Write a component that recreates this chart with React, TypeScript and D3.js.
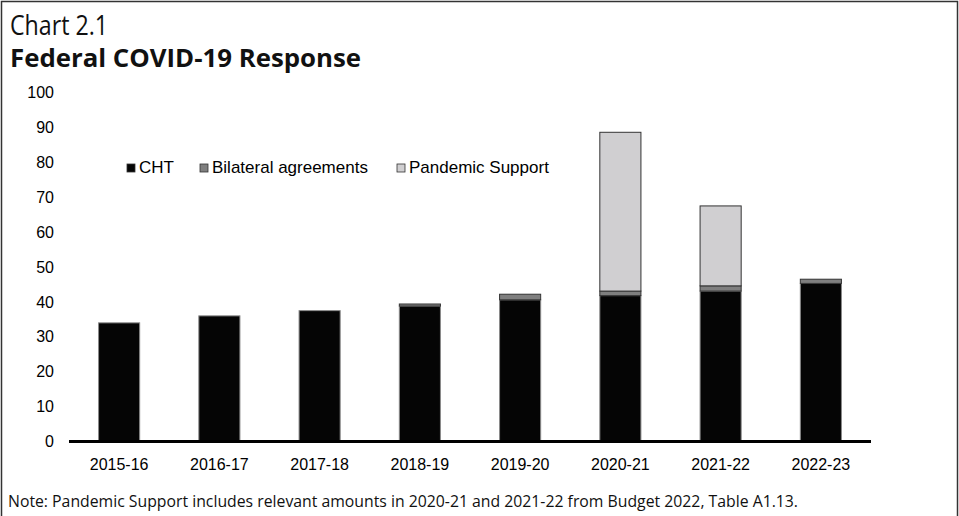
import React from "react";
import * as d3 from "d3";

const categories = ["2015-16", "2016-17", "2017-18", "2018-19", "2019-20", "2020-21", "2021-22", "2022-23"];
const cht = [34.0, 36.0, 37.5, 38.8, 40.6, 41.8, 43.1, 45.3];
const bilateral = [0, 0, 0, 0.6, 1.6, 1.3, 1.5, 1.2];
const pandemic = [0, 0, 0, 0, 0, 45.5, 22.9, 0];
const seriesNames = ["CHT", "Bilateral agreements", "Pandemic Support"];
const seriesColors = ["#050505", "#7f7f7f", "#d0cfd1"];
const yTicks = [0, 10, 20, 30, 40, 50, 60, 70, 80, 90, 100];

const W = 959;
const H = 516;

export default function App() {
  const x = d3.scaleBand<string>().domain(categories).range([69, 871]).paddingInner(0.59).paddingOuter(0.295);
  const y = d3.scaleLinear().domain([0, 100]).range([441.5, 92.5]);

  const rows = categories.map((c, i) => ({ cat: c, CHT: cht[i], Bilateral: bilateral[i], Pandemic: pandemic[i] }));
  const keys = ["CHT", "Bilateral", "Pandemic"];
  const stacked = d3.stack<any>().keys(keys)(rows);

  const legendX = [127, 200, 397];
  const tickFont = "'Liberation Sans', Arial, sans-serif";
  const titleFont = "'Open Sans', 'Noto Sans', sans-serif";

  return (
    <svg width={W} height={H} style={{ position: "absolute", left: 0, top: 0, background: "#fff" }}>
      <rect x={1.5} y={1.5} width={956} height={530} fill="#fff" stroke="#333" strokeWidth={1.5} />
      <text x={10} y={35} fontFamily={titleFont} fontSize={27} fill="#111" textLength={98} lengthAdjust="spacingAndGlyphs">Chart 2.1</text>
      <text x={10} y={67} fontFamily={titleFont} fontSize={25.5} fontWeight="bold" fill="#111" textLength={351} lengthAdjust="spacingAndGlyphs">Federal COVID-19 Response</text>

      {yTicks.map((t) => (
        <text key={t} x={54} y={y(t)} dy="0.35em" textAnchor="end" fontFamily={tickFont} fontSize={16} fill="#000">{t}</text>
      ))}

      {stacked.map((s, si) => (
        <g key={s.key}>
          {s.map((d, i) => {
            const h = y(d[0]) - y(d[1]);
            if (h <= 0) return null;
            return (
              <rect key={i} x={x(categories[i])} y={y(d[1])} width={x.bandwidth()} height={h}
                fill={seriesColors[si]} stroke={si === 0 ? "#8a8a8a" : "#333"} strokeWidth={1} />
            );
          })}
        </g>
      ))}

      <line x1={69} x2={871} y1={441.5} y2={441.5} stroke="#000" strokeWidth={3} />

      {categories.map((c) => (
        <text key={c} x={(x(c) as number) + x.bandwidth() / 2} y={470} textAnchor="middle" fontFamily={tickFont} fontSize={16} fill="#000">{c}</text>
      ))}

      {seriesNames.map((n, i) => (
        <g key={n}>
          <rect x={legendX[i]} y={164} width={8} height={8} fill={seriesColors[i]} stroke="#333" strokeWidth={0.8} />
          <text x={legendX[i] + 12} y={173} fontFamily={tickFont} fontSize={17} fill="#000">{n}</text>
        </g>
      ))}

      <text x={8} y={507} fontFamily={titleFont} fontSize={16} fill="#111" textLength={790} lengthAdjust="spacingAndGlyphs">Note: Pandemic Support includes relevant amounts in 2020-21 and 2021-22 from Budget 2022, Table A1.13.</text>
    </svg>
  );
}
